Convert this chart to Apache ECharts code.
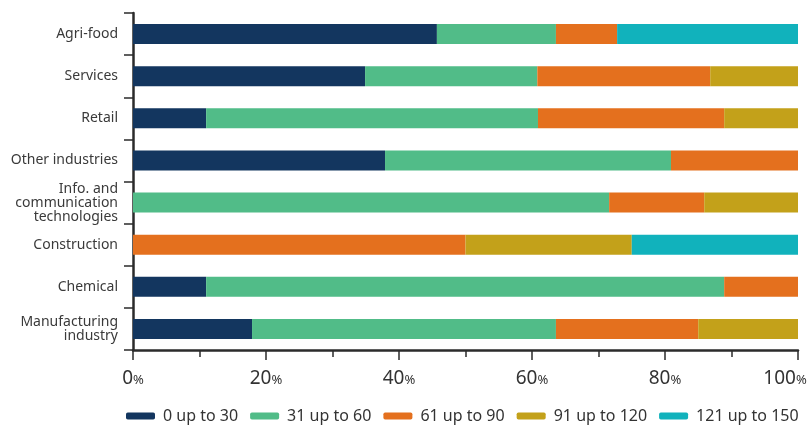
<!DOCTYPE html>
<html><head><meta charset="utf-8">
<script src="https://cdn.jsdelivr.net/npm/echarts@6/dist/echarts.min.js"></script>
<style>html,body{margin:0;padding:0;background:#fff}#c{width:808px;height:426px}</style>
</head><body><div id="c"></div>
<script>
var categories = ['Agri-food','Services','Retail','Other industries','Info. and\ncommunication\ntechnologies','Construction','Chemical','Manufacturing\nindustry'];
var seriesNames = ['0 up to 30','31 up to 60','61 up to 90','91 up to 120','121 up to 150'];
var s0to30   = [45.7, 34.9, 11.0, 37.9, 0,    0,    11.0, 17.9];
var s31to60  = [17.9, 25.9, 49.9, 43.0, 71.6, 0,    77.9, 45.7];
var s61to90  = [9.2,  26.0, 28.0, 19.1, 14.3, 50.0, 11.1, 21.4];
var s91to120 = [0,    13.2, 11.1, 0,    14.1, 25.0, 0,    15.0];
var s121to150= [27.2, 0,    0,    0,    0,    25.0, 0,    0];
var xTicks = [0,20,40,60,80,100];
var colors = ['#13365f','#51bc88','#e4701e','#c3a11a','#11b2bc'];
var values = [s0to30, s31to60, s61to90, s91to120, s121to150];

var chart = echarts.init(document.getElementById('c'));
var font = 'Noto Sans';
chart.setOption({
  animation: false,
  textStyle: {fontFamily: font},
  grid: {left: 133, right: 10, top: 13, bottom: 76, containLabel: false, outerBoundsMode: 'none'},
  xAxis: {
    type: 'value', min: 0, max: 100, interval: 20,
    axisLine: {show: true, lineStyle: {color: '#2b2b2b', width: 2.5}},
    axisTick: {show: true, length: 10, lineStyle: {color: '#2b2b2b', width: 1.5}},
    minorTick: {show: true, splitNumber: 2, length: 7, lineStyle: {color: '#2b2b2b', width: 1.5}},
    splitLine: {show: false},
    axisLabel: {
      margin: 19,
      formatter: function(v){ return v === 100 ? '{n|' + v + '}{q|%}' : '{n|' + v + '}{p|%}'; },
      rich: {
        n: {fontFamily: font, fontSize: 19, color: '#333'},
        p: {fontFamily: font, fontSize: 13, color: '#333', padding: [3,0,0,0]},
        q: {fontFamily: font, fontSize: 13, color: '#333', padding: [3,26,0,0]}
      }
    }
  },
  yAxis: {
    type: 'category', inverse: true, data: categories,
    axisLine: {show: true, lineStyle: {color: '#2b2b2b', width: 2.5}},
    axisTick: {show: true, length: 9, lineStyle: {color: '#2b2b2b', width: 1.5}},
    axisLabel: {margin: 15, fontFamily: font, fontSize: 14, color: '#3a3a3a', lineHeight: 14, align: 'right'}
  },
  legend: {
    left: 126, bottom: 2, width: 700, padding: 0, itemWidth: 29, itemHeight: 7, itemGap: 12,
    icon: 'roundRect',
    textStyle: {fontFamily: font, fontSize: 16, color: '#333', padding: [0,0,0,3]},
    data: seriesNames
  },
  series: seriesNames.map(function(n, i){
    return {
      name: n, type: 'bar', stack: 'total', barWidth: 20,
      itemStyle: {color: colors[i]},
      data: values[i]
    };
  })
});
</script>
</body></html>
